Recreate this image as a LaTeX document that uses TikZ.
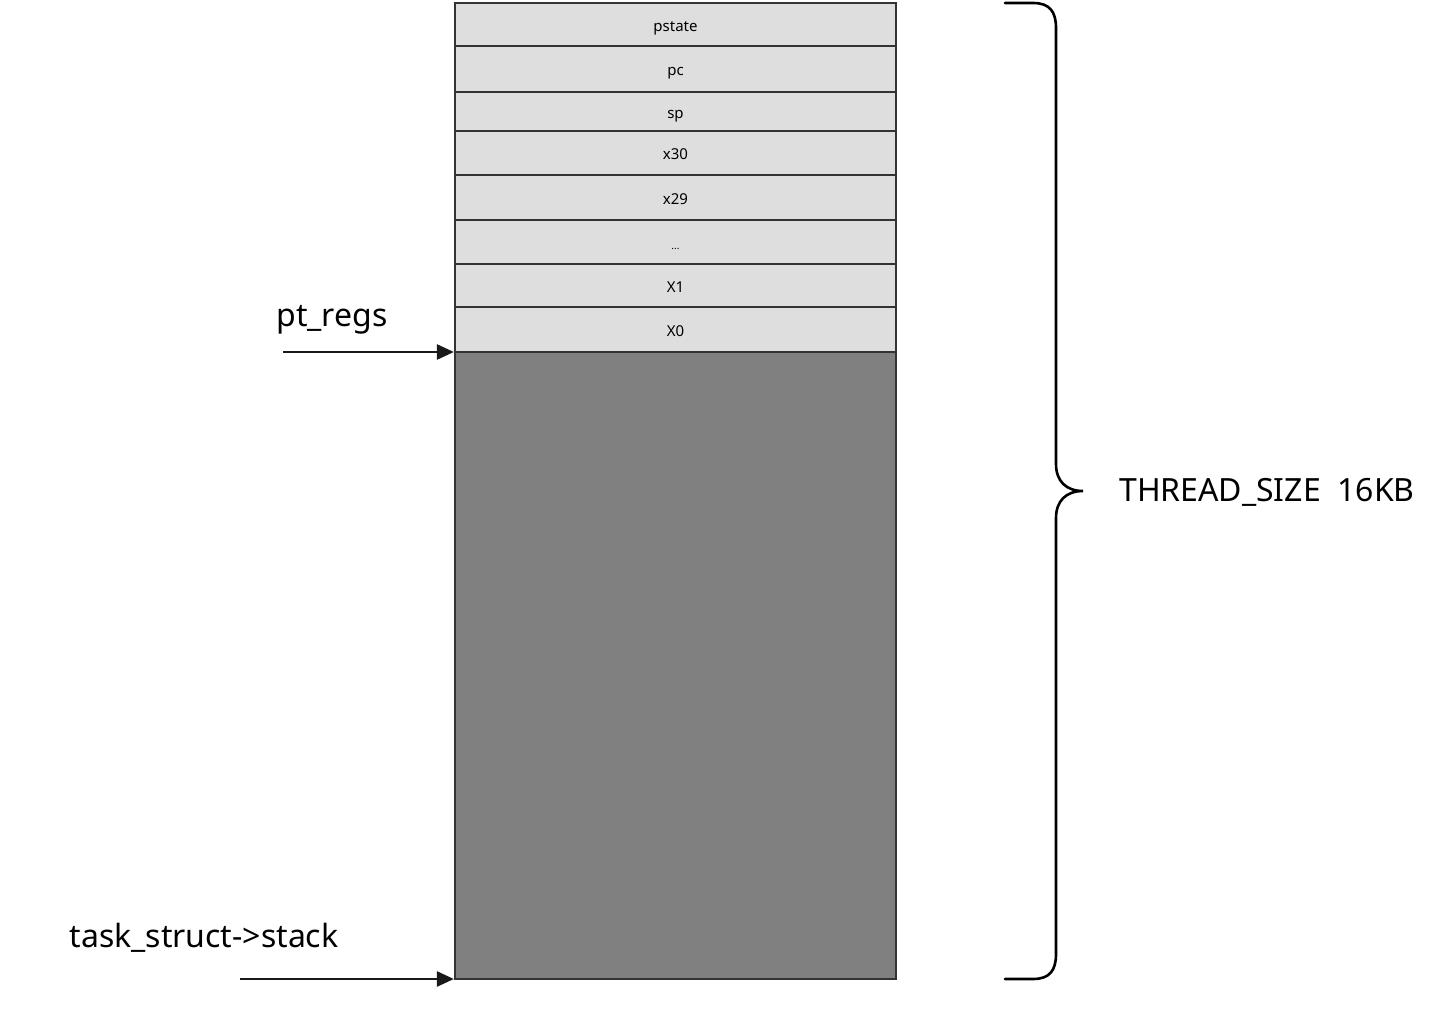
\documentclass[tikz,border=0pt]{standalone}
\usepackage{fontspec}
\setmainfont{Noto Sans}
\usetikzlibrary{arrows.meta}
\definecolor{cellgray}{HTML}{DEDEDE}
\definecolor{stackgray}{HTML}{808080}
\definecolor{edgegray}{HTML}{333333}
\begin{document}
\begin{tikzpicture}[x=1pt,y=-1pt,
  cell/.style={draw=edgegray,line width=2.2pt,fill=cellgray,minimum width=441pt,inner sep=0pt,text height=17pt,text depth=3pt,font=\fontsize{15}{17}\selectfont},
  bigcell/.style={draw=edgegray,line width=2.2pt,fill=stackgray,minimum width=441pt,inner sep=0pt},
  lbl/.style={font=\fontsize{32}{38}\selectfont,inner sep=0pt},
  ptr/.style={line width=2.5pt,draw=black!90,-{Triangle[length=17pt,width=15pt]}},
  brace/.style={line width=2.6pt,line cap=round}]
\useasboundingbox (0,0) rectangle (1440,1014);
\fill[white] (0,0) rectangle (1440,1014);
% stack area
\node[bigcell,minimum height=627pt] (stack) at (675.5,665.5) {};
% register rows
\node[cell,minimum height=43pt] (pstate) at (675.5,24.5) {pstate};
\node[cell,minimum height=46pt] (pc) at (675.5,69) {pc};
\node[cell,minimum height=39pt] (sp) at (675.5,111.5) {sp};
\node[cell,minimum height=44pt] (x30) at (675.5,153) {x30};
\node[cell,minimum height=45pt] (x29) at (675.5,197.5) {x29};
\node[cell,minimum height=44pt] (dots) at (675.5,242) {\fontsize{10}{10}\selectfont ...};
\node[cell,minimum height=43pt] (x1) at (675.5,285.5) {X1};
\node[cell,minimum height=45pt] (x0) at (675.5,329.5) {X0};
% labels
\node[lbl] (ptregs) at (332,320) {pt\_regs};
\node[lbl] (taskstack) at (204,938) {task\_struct->stack};
\node[lbl,anchor=west] (tsize) at (1119,492) {THREAD\_SIZE\ \ 16KB};
% pointers
\coordinate (p1) at (283,352);
\coordinate (p2) at (240,979);
\draw[ptr] (p1) -- (x0.south west |- p1);
\draw[ptr] (p2) -- (stack.south west |- p2);
% brace
\coordinate (btop) at (1005,3);
\coordinate (btip) at (1083,491);
\coordinate (bbot) at (1005,979);
\draw[brace] (btop) -- (1033,3) .. controls (1050,3) and (1056,12) .. (1056,28)
  -- (1056,464) .. controls (1056,481) and (1066,491) .. (btip)
  .. controls (1066,491) and (1056,501) .. (1056,518)
  -- (1056,954) .. controls (1056,970) and (1050,979) .. (1033,979) -- (bbot);
\end{tikzpicture}
\end{document}
